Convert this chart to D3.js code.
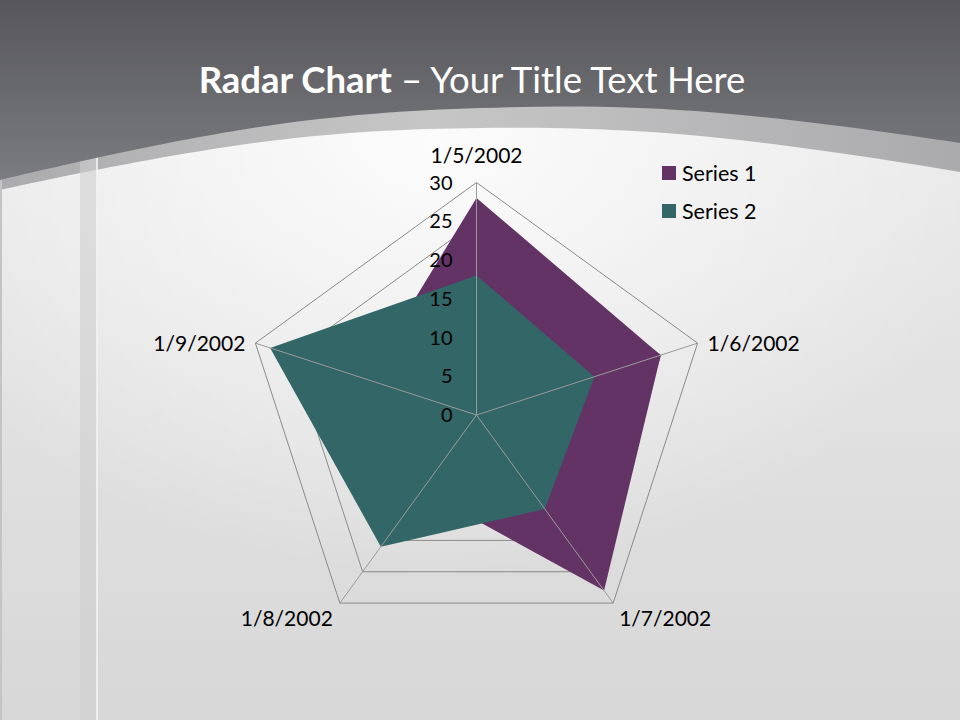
<!DOCTYPE html>
<html>
<head>
<meta charset="utf-8">
<script src="https://cdn.jsdelivr.net/npm/d3@7"></script>
<style>
  html, body { margin: 0; padding: 0; background: #ddd; }
  svg { display: block; }
  text { font-family: Lato, "Open Sans", sans-serif; }
</style>
</head>
<body>
<script>
// ---- data ----
const categories = ["1/5/2002", "1/6/2002", "1/7/2002", "1/8/2002", "1/9/2002"];
const seriesNames = ["Series 1", "Series 2"];
const series1 = [28, 25, 28, 12, 15];
const series2 = [18, 16, 15, 21, 28];
const tickValues = [0, 5, 10, 15, 20, 25, 30];
const seriesColors = ["#643366", "#336667"];

const W = 960, H = 720;
const svg = d3.select("body").append("svg").attr("width", W).attr("height", H);
const defs = svg.append("defs");

// ---- background ----
const gTop = defs.append("linearGradient").attr("id", "gTop").attr("x1", 0).attr("y1", 0).attr("x2", 0).attr("y2", 1);
gTop.append("stop").attr("offset", "0%").attr("stop-color", "#56565b");
gTop.append("stop").attr("offset", "100%").attr("stop-color", "#7c7d81");
const gIn = defs.append("linearGradient").attr("id", "gIn").attr("x1", 0).attr("y1", 0).attr("x2", 0).attr("y2", 1);
gIn.append("stop").attr("offset", "0%").attr("stop-color", "#eeeeee");
gIn.append("stop").attr("offset", "100%").attr("stop-color", "#d7d7d7");
const gGlow = defs.append("radialGradient").attr("id", "gGlow").attr("cx", 0.45).attr("cy", 0.2).attr("r", 0.6);
gGlow.append("stop").attr("offset", "0%").attr("stop-color", "#ffffff").attr("stop-opacity", 0.85);
gGlow.append("stop").attr("offset", "100%").attr("stop-color", "#ffffff").attr("stop-opacity", 0);
const gBand = defs.append("linearGradient").attr("id", "gBand").attr("x1", 0).attr("y1", 0).attr("x2", 1).attr("y2", 0);
gBand.append("stop").attr("offset", "0%").attr("stop-color", "#a9a9ab");
gBand.append("stop").attr("offset", "45%").attr("stop-color", "#c6c6c7");
gBand.append("stop").attr("offset", "100%").attr("stop-color", "#a9a9ab");

svg.append("rect").attr("width", W).attr("height", H).attr("fill", "url(#gIn)");
svg.append("rect").attr("width", W).attr("height", H).attr("fill", "url(#gGlow)");

const curve = d3.line().curve(d3.curveNatural);
const topEdge = [[-10, 184], [0, 180], [240, 130], [480, 108], [720, 113], [960, 143], [970, 146]];
const bandEdge = [[-10, 194], [0, 190], [240, 145], [480, 128], [720, 138], [960, 172], [970, 176]];

svg.append("path")
  .attr("d", curve(bandEdge) + "L970,0L-10,0Z")
  .attr("fill", "url(#gBand)");
// vertical strip
svg.append("rect").attr("x", 80).attr("y", 155).attr("width", 17).attr("height", H - 155)
  .attr("fill", "#cfcfd0").attr("opacity", 0.6);
svg.append("rect").attr("x", 96).attr("y", 155).attr("width", 2).attr("height", H - 155)
  .attr("fill", "#f4f4f4").attr("opacity", 0.8);
svg.append("rect").attr("x", 0).attr("y", 150).attr("width", 2).attr("height", H - 150)
  .attr("fill", "#c4c4c4");
// dark top
svg.append("path")
  .attr("d", curve(topEdge) + "L970,0L-10,0Z")
  .attr("fill", "url(#gTop)");

// ---- title ----
const title = svg.append("text").attr("x", 472).attr("y", 93).attr("text-anchor", "middle")
  .attr("fill", "#ffffff").style("font-size", "36.5px");
title.append("tspan").attr("font-weight", "bold").text("Radar Chart");
title.append("tspan").text(" \u2013 Your Title Text Here");

// ---- radar ----
const cx = 476.5, cy = 415, R = 232.5;
const r = d3.scaleLinear().domain([0, 30]).range([0, R]);
const angle = d3.scalePoint().domain(categories).range([0, 2 * Math.PI * 4 / 5]);
const g = svg.append("g").attr("transform", `translate(${cx},${cy})`);

const radial = d3.lineRadial().curve(d3.curveLinearClosed);

// gridlines (pentagons)
g.selectAll("path.grid").data(tickValues.filter(v => v > 0)).join("path")
  .attr("class", "grid")
  .attr("d", v => radial(categories.map(c => [angle(c), r(v)])))
  .attr("fill", "none").attr("stroke", "#8a8a8a").attr("stroke-width", 1);

// series areas
const allSeries = [series1, series2];
g.selectAll("path.series").data(allSeries).join("path")
  .attr("class", "series")
  .attr("d", vals => radial(vals.map((v, i) => [angle(categories[i]), r(v)])))
  .attr("fill", (d, i) => seriesColors[i]);

// spokes
g.selectAll("line.spoke").data(categories).join("line")
  .attr("class", "spoke")
  .attr("x1", 0).attr("y1", 0)
  .attr("x2", c => r(30) * Math.sin(angle(c)))
  .attr("y2", c => -r(30) * Math.cos(angle(c)))
  .attr("stroke", "#9a9a9a").attr("stroke-width", 1);

// tick labels
g.selectAll("text.tick").data(tickValues).join("text")
  .attr("class", "tick")
  .attr("x", -24).attr("y", v => -r(v))
  .attr("dy", "0.36em")
  .attr("text-anchor", "end")
  .attr("fill", "#000").style("font-size", "20px")
  .text(d => d);

// category labels
const labelPos = [
  { dx: 0, dy: -20, anchor: "middle" },
  { dx: 10, dy: 8, anchor: "start" },
  { dx: 6, dy: 23, anchor: "start" },
  { dx: -7, dy: 23, anchor: "end" },
  { dx: -10, dy: 8, anchor: "end" }
];
g.selectAll("text.cat").data(categories).join("text")
  .attr("class", "cat")
  .attr("x", (c, i) => r(30) * Math.sin(angle(c)) + labelPos[i].dx)
  .attr("y", (c, i) => -r(30) * Math.cos(angle(c)) + labelPos[i].dy)
  .attr("text-anchor", (c, i) => labelPos[i].anchor)
  .attr("fill", "#000").style("font-size", "21px")
  .text(c => c);

// ---- legend ----
const legend = svg.append("g").attr("transform", "translate(662,166)");
const li = legend.selectAll("g").data(seriesNames).join("g")
  .attr("transform", (d, i) => `translate(0,${i * 38})`);
li.append("rect").attr("width", 14).attr("height", 14).attr("fill", (d, i) => seriesColors[i]);
li.append("text").attr("x", 20).attr("y", 7).attr("dy", "0.36em")
  .attr("fill", "#000").style("font-size", "21.5px").text(d => d);
</script>
</body>
</html>
